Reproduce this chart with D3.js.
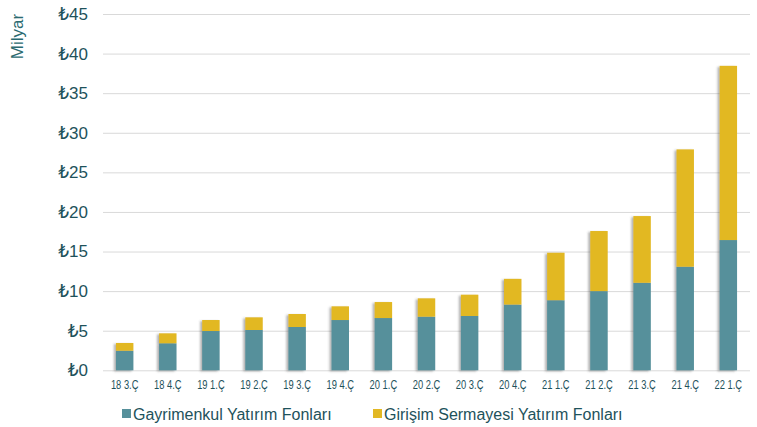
<!DOCTYPE html>
<html>
<head>
<meta charset="utf-8">
<script src="https://cdn.jsdelivr.net/npm/d3@7"></script>
<style>
  html, body { margin: 0; padding: 0; background: #fff; }
  svg { display: block; font-family: "Liberation Sans", Arial, "DejaVu Sans", sans-serif; }
</style>
</head>
<body>
<svg id="chart" width="757" height="427"></svg>
<script>
// Quarterly fund sizes, billion TL
const categories = ["18 3.Ç","18 4.Ç","19 1.Ç","19 2.Ç","19 3.Ç","19 4.Ç","20 1.Ç","20 2.Ç","20 3.Ç","20 4.Ç","21 1.Ç","21 2.Ç","21 3.Ç","21 4.Ç","22 1.Ç"];
const gyf  = [2.47, 3.41, 4.96, 5.09, 5.47, 6.35, 6.60, 6.77, 6.86, 8.30, 8.85, 10.00, 11.05, 13.08, 16.45];
const gsyf = [0.98, 1.26, 1.39, 1.60, 1.64, 1.73, 2.02, 2.32, 2.69, 3.25, 6.00, 7.59, 8.43, 14.82, 22.00];
const yTicks = [0, 5, 10, 15, 20, 25, 30, 35, 40, 45];
const seriesNames = ["Gayrimenkul Yatırım Fonları", "Girişim Sermayesi Yatırım Fonları"];
const seriesColors = ["#56909b", "#e2b824"];

const svg = d3.select("#chart");
const plotLeft = 103, plotRight = 750, plotTop = 14, plotBottom = 370.3;

const x = d3.scaleBand().domain(categories).range([plotLeft, plotRight]).paddingInner(0.595).paddingOuter(0.3);
const y = d3.scaleLinear().domain([0, 45]).range([plotBottom, plotTop]);

// soft shadow behind bars
const defs = svg.append("defs");
const f = defs.append("filter").attr("id", "shadow").attr("x", "-50%").attr("y", "-10%").attr("width", "200%").attr("height", "120%");
f.append("feDropShadow").attr("dx", -2).attr("dy", 1).attr("stdDeviation", 1.2)
  .attr("flood-color", "#555").attr("flood-opacity", 0.45);

// gridlines
const grid = svg.append("g")
  .attr("transform", `translate(${plotLeft},0)`)
  .call(d3.axisLeft(y).tickValues(yTicks).tickSize(-(plotRight - plotLeft)).tickFormat(""));
grid.select(".domain").remove();
grid.selectAll("line").attr("stroke", "#d9d9d9").attr("stroke-width", 1);

// y tick labels
const yAxis = svg.append("g")
  .attr("transform", `translate(88,0)`)
  .call(d3.axisLeft(y).tickValues(yTicks).tickSize(0).tickPadding(0).tickFormat(d => "₺" + d));
yAxis.select(".domain").remove();
yAxis.selectAll("text").attr("fill", "#1e525b").attr("font-size", 17)
  .attr("font-family", "'Liberation Sans', Arial, 'DejaVu Sans', sans-serif");

// stacked bars
const stack = d3.stack().keys([0, 1])(categories.map((c, i) => ({ cat: c, 0: gyf[i], 1: gsyf[i] })));
const barsG = svg.append("g");
categories.forEach((c, i) => {
  const g = barsG.append("g").attr("filter", "url(#shadow)");
  stack.forEach((layer, k) => {
    const d = layer[i];
    g.append("rect")
      .attr("x", x(c))
      .attr("width", x.bandwidth())
      .attr("y", y(d[1]))
      .attr("height", y(d[0]) - y(d[1]))
      .attr("fill", seriesColors[k]);
  });
});

// x axis labels
const xAxis = svg.append("g")
  .attr("transform", `translate(0,${plotBottom})`)
  .call(d3.axisBottom(x).tickSize(0).tickPadding(0));
xAxis.select(".domain").remove();
xAxis.selectAll(".tick text")
  .attr("y", 0)
  .attr("dy", 0)
  .attr("fill", "#1e525b")
  .attr("font-size", 13)
  .attr("text-anchor", "middle")
  .attr("transform", "translate(0,19) scale(0.72,1)");

// axis title
svg.append("text")
  .attr("transform", "translate(23,36.5) rotate(-90)")
  .attr("text-anchor", "middle")
  .attr("font-size", 17)
  .attr("fill", "#2b6a70")
  .text("Milyar");

// legend
const legendItems = [{ x: 122 }, { x: 373 }];
legendItems.forEach((it, k) => {
  svg.append("rect").attr("x", it.x).attr("y", 409).attr("width", 9).attr("height", 9).attr("fill", seriesColors[k]);
  svg.append("text").attr("x", it.x + 11).attr("y", 420).attr("font-size", 16)
    .attr("fill", "#1e525b").text(seriesNames[k]);
});
</script>
</body>
</html>
